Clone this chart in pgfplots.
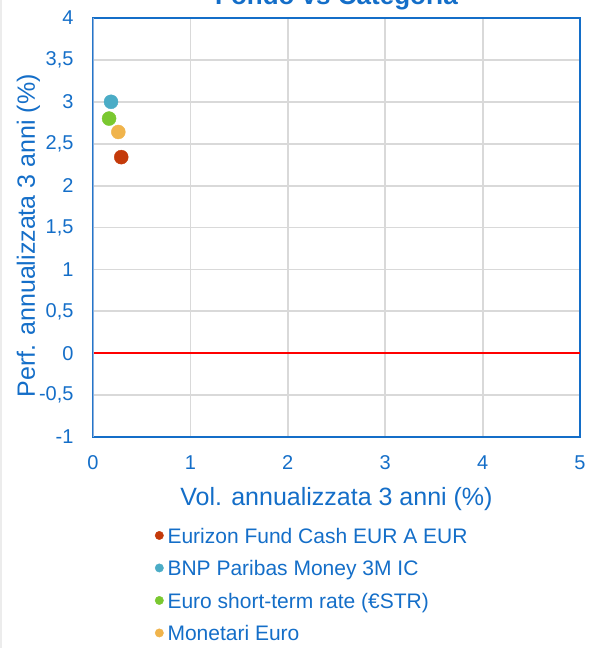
\documentclass[border=0pt]{standalone}
\usepackage{pgfplots}
\pgfplotsset{compat=1.18}
\usepackage{fontspec}
\setmainfont{Liberation Sans}
\definecolor{txtblue}{RGB}{20,110,200}
\definecolor{boxblue}{RGB}{20,110,200}
\definecolor{leftblue}{RGB}{140,175,220}
\definecolor{gridgray}{RGB}{217,217,217}
\definecolor{cRed}{RGB}{196,58,10}
\definecolor{cTeal}{RGB}{75,172,198}
\definecolor{cGreen}{RGB}{122,200,48}
\definecolor{cOrange}{RGB}{240,180,76}
\begin{document}
\begin{tikzpicture}
\path[use as bounding box] (0pt,0pt) rectangle (591pt,-648pt);
\draw[gray!15, line width=2pt] (1pt,0pt) -- (1pt,-648pt);
\begin{axis}[
  at={(93pt,-437pt)}, anchor=south west,
  scale only axis, width=487pt, height=419pt,
  xmin=0, xmax=5, ymin=-1, ymax=4,
  xtick={0,1,2,3,4,5},
  ytick={-1,-0.5,0,0.5,1,1.5,2,2.5,3,3.5,4},
  /pgf/number format/assume math mode=true,
  /pgf/number format/use comma,
  /pgf/number format/1000 sep={},
  major tick length=0pt,
  tick label style={font=\fontsize{20}{20}\selectfont, text=txtblue},
  xticklabel style={yshift=-15pt},
  yticklabel style={xshift=-16pt},
  grid=major,
  grid style={draw=gridgray, line width=1.8pt},
  axis line style={draw=boxblue, line width=2.4pt},
  xlabel={Vol. annualizzata 3 anni (\%)},
  ylabel={Perf. annualizzata 3 anni (\%)},
  label style={font=\fontsize{25}{25}\selectfont, text=txtblue},
  xlabel style={at={(0.5,0)}, anchor=base, yshift=-68pt},
  ylabel style={at={(0,0.48)}, anchor=base, yshift=58pt},
  title={Fondo vs Categoria},
  title style={font=\bfseries\fontsize{26}{26}\selectfont, text=txtblue, at={(0.5,1)}, anchor=base, yshift=8pt},
  legend style={at={(0.121,-0.213)}, anchor=north west, draw=none, fill=none,
    font=\fontsize{21}{21}\selectfont, text=txtblue,
    nodes={inner sep=0pt, text height=15pt, text depth=5pt},
    row sep=12.5pt, column sep=4pt},
  legend cell align=left,
  legend image code/.code={\draw[#1, mark size=4.2pt] plot coordinates {(0pt,3pt)};},
]
\addplot[red, line width=2.5pt, forget plot] coordinates {(0,0) (5,0)};
\addplot[only marks, mark=*, mark size=7pt, color=cRed, mark options={draw=cRed, fill=cRed}] coordinates {(0.29,2.34)};
\addlegendentry{Eurizon Fund Cash EUR A EUR}
\addplot[only marks, mark=*, mark size=7pt, color=cTeal, mark options={draw=cTeal, fill=cTeal}] coordinates {(0.185,3.00)};
\addlegendentry{BNP Paribas Money 3M IC}
\addplot[only marks, mark=*, mark size=7pt, color=cGreen, mark options={draw=cGreen, fill=cGreen}] coordinates {(0.165,2.80)};
\addlegendentry{Euro short-term rate (€STR)}
\addplot[only marks, mark=*, mark size=7pt, color=cOrange, mark options={draw=cOrange, fill=cOrange}] coordinates {(0.26,2.64)};
\addlegendentry{Monetari Euro}
\draw[leftblue, line width=2.2pt] (rel axis cs:0,0) -- (rel axis cs:0,1);
\end{axis}
\end{tikzpicture}
\end{document}
